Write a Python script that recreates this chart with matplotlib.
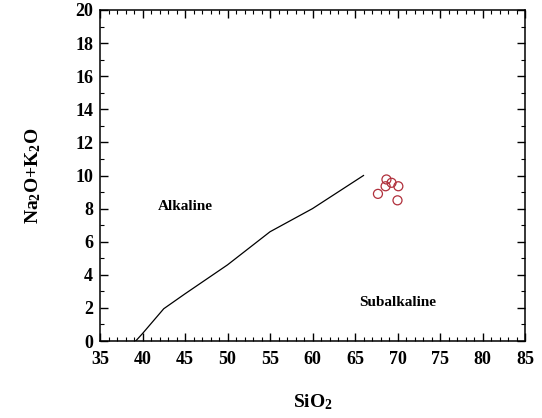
import numpy as np
import matplotlib.pyplot as plt
from matplotlib.ticker import MultipleLocator

plt.rcParams['font.family'] = ['Liberation Serif', 'DejaVu Serif']
plt.rcParams['font.weight'] = 'bold'
plt.rcParams['mathtext.fontset'] = 'custom'
plt.rcParams['mathtext.rm'] = 'Liberation Serif:bold'
plt.rcParams['mathtext.bf'] = 'Liberation Serif:bold'
plt.rcParams['mathtext.it'] = 'Liberation Serif:italic:bold'
plt.rcParams['mathtext.default'] = 'rm'

# Irvine & Baragar alkaline / subalkaline divide
line_sio2 = [39.2, 40.0, 42.5, 45.0, 50.0, 55.0, 60.0, 66.0]
line_alk = [0.0, 0.45, 1.95, 2.85, 4.6, 6.6, 8.0, 10.0]

# samples
sio2 = [68.7, 69.3, 68.6, 70.1, 67.7, 70.0]
alk = [9.76, 9.56, 9.35, 9.35, 8.89, 8.5]

fig = plt.figure(figsize=(5.42, 4.18), dpi=100)
ax = fig.add_axes([100/542, 1-341/418, 425/542, 331/418])

ax.plot(line_sio2, line_alk, color='black', lw=0.9)
ax.scatter(sio2, alk, s=42, facecolors='none', edgecolors='#b0303c', linewidths=0.9)

ax.text(45, 8.1, 'Alkaline', fontsize=11, ha='center', va='center')
ax.text(70, 2.3, 'Subalkaline', fontsize=11, ha='center', va='center')

ax.set_xlim(35, 85)
ax.set_ylim(0, 20)
ax.xaxis.set_major_locator(MultipleLocator(5))
ax.xaxis.set_minor_locator(MultipleLocator(1))
ax.yaxis.set_major_locator(MultipleLocator(2))
ax.yaxis.set_minor_locator(MultipleLocator(1))
ax.tick_params(which='both', direction='in', top=True, right=True, labelsize=13)
ax.tick_params(axis='x', pad=7)
ax.tick_params(axis='y', pad=5)
ax.tick_params(which='major', length=6, width=1)
ax.tick_params(which='minor', length=3, width=0.8)
for s in ax.spines.values():
    s.set_linewidth(1.1)

ax.set_xlabel('SiO$_2$', fontsize=14, fontweight='bold', labelpad=18)
ax.set_ylabel('Na$_2$O+K$_2$O', fontsize=14, fontweight='bold', labelpad=23)

fig.savefig('out.png', dpi=100)
